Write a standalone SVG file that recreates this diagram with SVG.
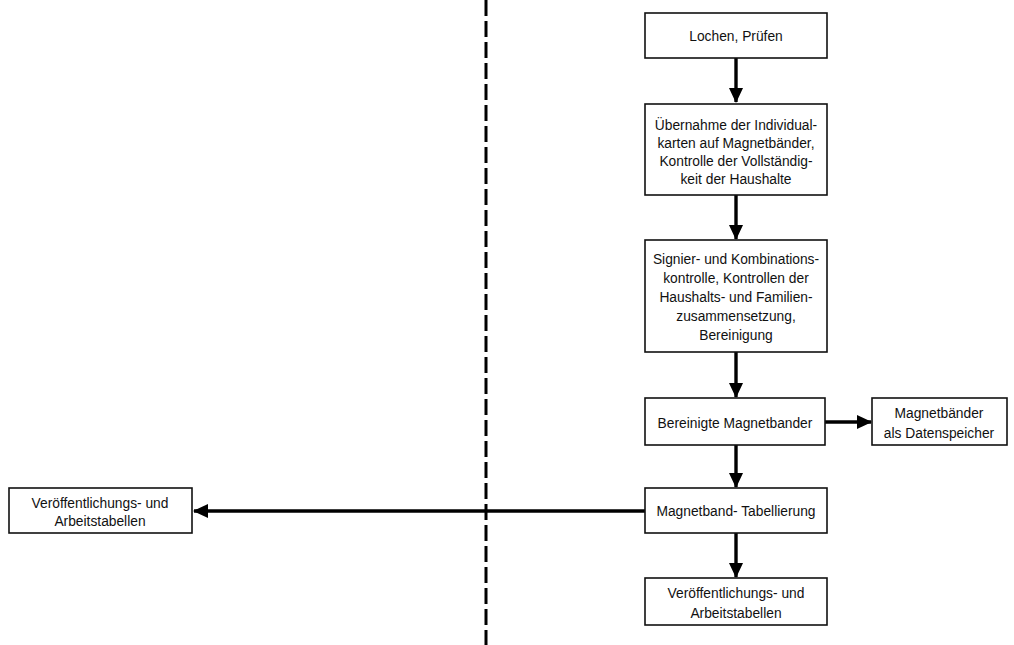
<svg xmlns="http://www.w3.org/2000/svg" width="1014" height="645" viewBox="0 0 1014 645">
<style>
.box{fill:#fff;stroke:#111;stroke-width:1.6}
.t{font-family:"Liberation Sans",Arial,sans-serif;font-size:15.5px;fill:#111;text-anchor:middle}
.c{stroke:#000;stroke-width:3.4;fill:none}
</style>
<defs>
<marker id="ah" markerUnits="userSpaceOnUse" markerWidth="16" markerHeight="16" refX="14" refY="8" orient="auto">
<path d="M0,1 L15,8 L0,15 Z" fill="#000"/>
</marker>
</defs>
<rect width="1014" height="645" fill="#fff"/>
<line x1="486" y1="0" x2="486" y2="645" stroke="#000" stroke-width="3" stroke-dasharray="16,5"/>
<g id="connectors">
<line class="c" x1="736" y1="58" x2="736" y2="102" marker-end="url(#ah)"/>
<line class="c" x1="736" y1="195" x2="736" y2="239" marker-end="url(#ah)"/>
<line class="c" x1="736" y1="352" x2="736" y2="397" marker-end="url(#ah)"/>
<line class="c" x1="825" y1="422" x2="871" y2="422" marker-end="url(#ah)"/>
<line class="c" x1="736" y1="445" x2="736" y2="487" marker-end="url(#ah)"/>
<line class="c" x1="645" y1="511" x2="194" y2="511" marker-end="url(#ah)"/>
<line class="c" x1="736" y1="533" x2="736" y2="577" marker-end="url(#ah)"/>
</g>
<g id="n1"><rect class="box" x="645" y="13" width="182" height="45"/>
<g transform="matrix(0.89 0 0 1 80.96 0)"><text class="t" x="736" y="41">Lochen, Prüfen</text></g></g>
<g id="n2"><rect class="box" x="645" y="104" width="182" height="91"/>
<g transform="matrix(0.89 0 0 1 80.96 0)">
<text class="t" x="736" y="130">Übernahme der Individual-</text>
<text class="t" x="736" y="148">karten auf Magnetbänder,</text>
<text class="t" x="736" y="166">Kontrolle der Vollständig-</text>
<text class="t" x="736" y="184">keit der Haushalte</text></g></g>
<g id="n3"><rect class="box" x="645" y="240" width="182" height="112"/>
<g transform="matrix(0.89 0 0 1 80.96 0)">
<text class="t" x="736" y="264">Signier- und Kombinations-</text>
<text class="t" x="736" y="283">kontrolle, Kontrollen der</text>
<text class="t" x="736" y="302">Haushalts- und Familien-</text>
<text class="t" x="736" y="321">zusammensetzung,</text>
<text class="t" x="736" y="340">Bereinigung</text></g></g>
<g id="n4"><rect class="box" x="645" y="398" width="180" height="47"/>
<g transform="matrix(0.89 0 0 1 80.85 0)"><text class="t" x="735" y="428">Bereinigte Magnetbander</text></g></g>
<g id="n5"><rect class="box" x="872" y="398" width="135" height="47"/>
<g transform="matrix(0.89 0 0 1 103.29 0)">
<text class="t" x="939" y="418">Magnetbänder</text>
<text class="t" x="939" y="438">als Datenspeicher</text></g></g>
<g id="n6"><rect class="box" x="645" y="488" width="182" height="45"/>
<g transform="matrix(0.89 0 0 1 80.96 0)"><text class="t" x="736" y="516">Magnetband- Tabellierung</text></g></g>
<g id="n7"><rect class="box" x="645" y="578" width="182" height="47"/>
<g transform="matrix(0.89 0 0 1 80.96 0)">
<text class="t" x="736" y="598">Veröffentlichungs- und</text>
<text class="t" x="736" y="618">Arbeitstabellen</text></g></g>
<g id="n8"><rect class="box" x="9" y="488" width="183" height="45"/>
<g transform="matrix(0.89 0 0 1 11 0)">
<text class="t" x="100" y="508">Veröffentlichungs- und</text>
<text class="t" x="100" y="526">Arbeitstabellen</text></g></g>
</svg>
